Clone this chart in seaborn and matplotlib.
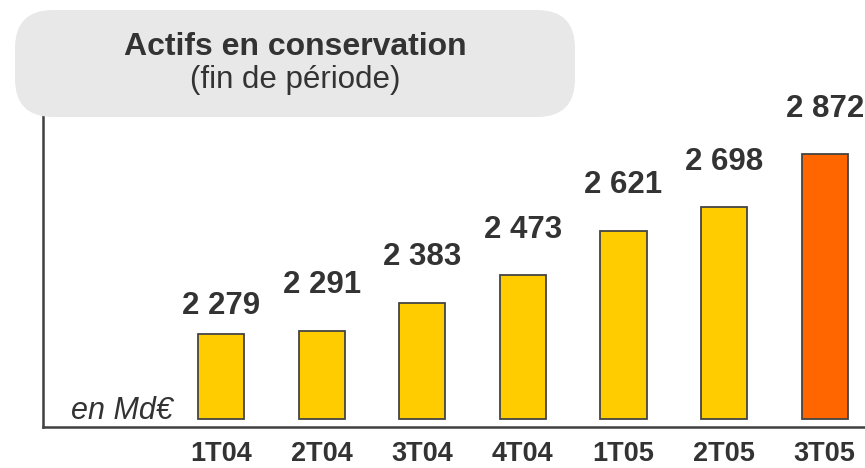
import matplotlib
matplotlib.use("Agg")
import matplotlib.pyplot as plt
import matplotlib.transforms as mtransforms
import seaborn as sns
from matplotlib.patches import FancyBboxPatch

# data (Md€, end of period)
quarters = ["1T04", "2T04", "3T04", "4T04", "1T05", "2T05", "3T05"]
assets = [2279, 2291, 2383, 2473, 2621, 2698, 2872]
bar_colors = ["#FFCC00"] * 6 + ["#FF6600"]
labels = ["2 279", "2 291", "2 383", "2 473", "2 621", "2 698", "2 872"]

base = 2000  # bars start here, axis line sits a bit below

sns.set_theme(style="white")
plt.rcParams["font.family"] = ["Liberation Sans", "DejaVu Sans"]
text_col = "#333333"

fig = plt.figure(figsize=(8.65, 4.68), dpi=100)
ax = fig.add_axes([43 / 865, 41 / 468, 1 - 43 / 865, 327 / 468])

heights = [v - base for v in assets]
sns.barplot(x=quarters, y=heights, hue=quarters, palette=bar_colors, legend=False,
            bottom=base, width=0.46, edgecolor="#444444", linewidth=1.3,
            saturation=1, ax=ax)

ax.set_xlim(-1.77, 6.40)
ax.set_ylim(1974, 3051)
ax.set_yticks([])
ax.set_xlabel("")
ax.set_ylabel("")
for s in ["top", "right"]:
    ax.spines[s].set_visible(False)
for s in ["left", "bottom"]:
    ax.spines[s].set_color("#404040")
    ax.spines[s].set_linewidth(1.8)
ax.tick_params(axis="x", length=0, pad=10, labelsize=19.5, labelcolor=text_col)
for t in ax.get_xticklabels():
    t.set_fontweight("bold")

# value labels above bars
for i, (v, lab) in enumerate(zip(assets, labels)):
    gap = 15 if i == 0 else 27
    ax.annotate(lab, (i, v), xytext=(0, gap), textcoords="offset points",
                ha="center", va="baseline", fontsize=22.5, fontweight="bold",
                color=text_col, annotation_clip=False)

ax.text(0.096, 0.024, "en Md€", transform=ax.transAxes, ha="center", va="baseline",
        fontsize=22, style="italic", color=text_col)

# title box (pixel coordinates)
box = FancyBboxPatch((15, 468 - 117), 560, 107,
                     boxstyle="round,pad=0,rounding_size=38",
                     transform=mtransforms.IdentityTransform(), facecolor="#E8E8E8",
                     edgecolor="none", zorder=5)
fig.patches.append(box)
fig.text(295 / 865, 1 - 47 / 468, "Actifs en conservation", ha="center", va="center",
         fontsize=23, fontweight="bold", color=text_col, zorder=6)
fig.text(295 / 865, 1 - 80 / 468, "(fin de période)", ha="center", va="center",
         fontsize=22.5, color=text_col, zorder=6)

fig.savefig("out.png", dpi=100)
